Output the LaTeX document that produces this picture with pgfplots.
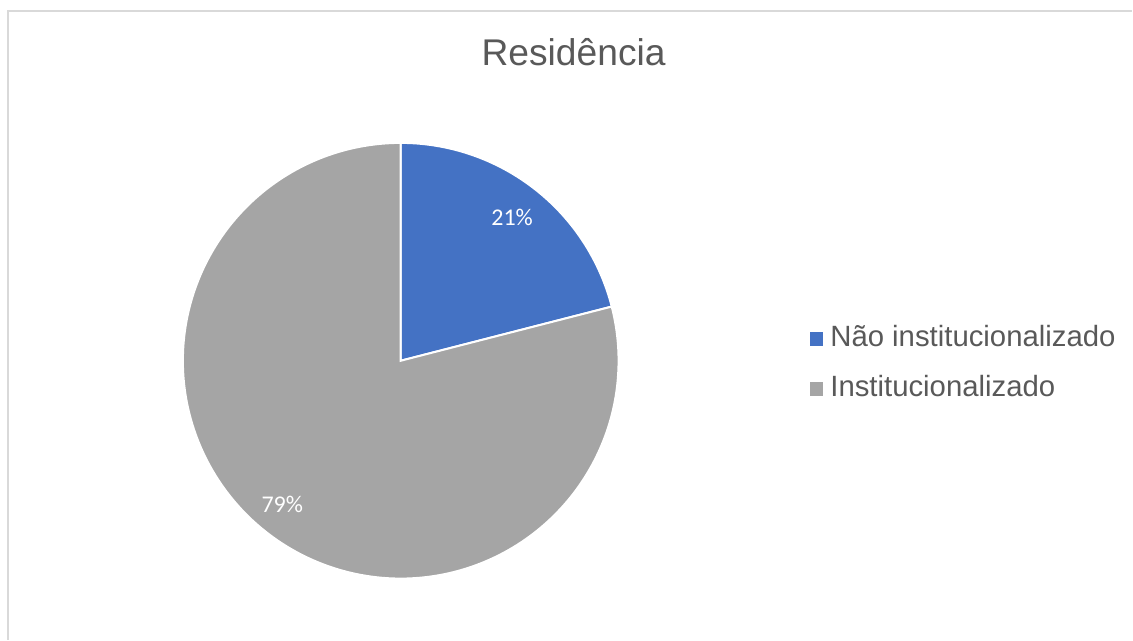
\documentclass[border=0pt]{standalone}
\usepackage{pgfplots}
\usepackage{pgfplotstable}
\pgfplotsset{compat=1.18}
\usepackage{fontspec}
\setmainfont{Liberation Sans}
\newfontfamily\calibri{Carlito}
\definecolor{sliceblue}{HTML}{4472C4}
\definecolor{slicegray}{HTML}{A5A5A5}
\definecolor{txtgray}{HTML}{595959}
\definecolor{framegray}{HTML}{D9D9D9}

\pgfplotstableread{
label value
Nao 21
Inst 79
}\piedata

\begin{document}
\begin{tikzpicture}
\pgfplotstablegetelem{0}{value}\of\piedata \let\va\pgfplotsretval
\pgfplotstablegetelem{1}{value}\of\piedata \let\vb\pgfplotsretval
\pgfmathsetmacro{\aS}{90}
\pgfmathsetmacro{\aA}{90-3.6*\va}
\pgfmathsetmacro{\aB}{\aA-3.6*\vb}
\begin{axis}[
  width=849.75pt, height=480pt, scale only axis,
  xmin=0, xmax=1133, ymin=0, ymax=640, y dir=reverse,
  hide axis, clip=false,
  legend style={at={(axis cs:810,326.7)}, anchor=north west, draw=none, fill=none,
    inner sep=0pt, font=\fontsize{22}{24}\selectfont, text=txtgray,
    row sep=22.5pt,
    nodes={inner sep=0pt, text height=15pt, text depth=0pt},
    /tikz/every odd column/.append style={column sep=5.5pt}},
  legend cell align=left,
]
\path (axis cs:0,0) rectangle (axis cs:1133,640);
\draw[framegray, line width=1.2pt] (axis cs:8,640) -- (axis cs:8,11) -- (axis cs:1133,11);

\addplot[fill=sliceblue, draw=white, line width=1.5pt, domain=\aA:\aS, samples=200,
  legend image code/.code={\fill[sliceblue] (0pt,-5.95pt) rectangle (8.5pt,2.55pt);}]
  ({401+218*cos(x)},{361-218*sin(x)}) -- (axis cs:401,361) -- cycle;
\addlegendentry{Não institucionalizado}
\addplot[fill=slicegray, draw=white, line width=1.5pt, domain=\aB:\aA, samples=300,
  legend image code/.code={\fill[slicegray] (0pt,-5.95pt) rectangle (8.5pt,2.55pt);}]
  ({401+218*cos(x)},{361-218*sin(x)}) -- (axis cs:401,361) -- cycle;
\addlegendentry{Institucionalizado}

\node[text=txtgray, font=\fontsize{27.9}{30}\selectfont, anchor=base] at (axis cs:574,65.7) {Residência};
\node[text=white, font=\calibri\fontsize{18}{20}\selectfont] at (axis cs:512.5,218) {21\%};
\node[text=white, font=\calibri\fontsize{18}{20}\selectfont] at (axis cs:282.5,504.5) {79\%};
\end{axis}
\end{tikzpicture}
\end{document}
